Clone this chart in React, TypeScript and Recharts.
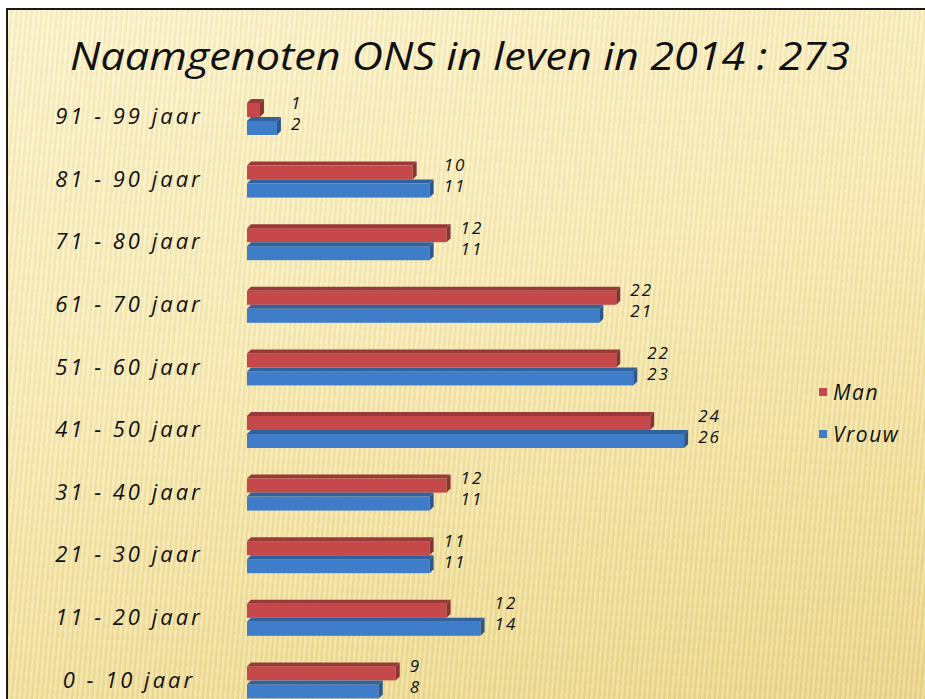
import React from 'react';
import { BarChart, Bar, XAxis, YAxis, LabelList } from 'recharts';

const categories = ['91 - 99 jaar', '81 - 90 jaar', '71 - 80 jaar', '61 - 70 jaar', '51 - 60 jaar', '41 - 50 jaar', '31 - 40 jaar', '21 - 30 jaar', '11 - 20 jaar', '0 - 10 jaar'];
const manValues = [1, 10, 12, 22, 22, 24, 12, 11, 12, 9];
const vrouwValues = [2, 11, 11, 21, 23, 26, 11, 11, 14, 8];
const seriesNames = ['Man', 'Vrouw'];
const title = 'Naamgenoten  ONS in leven in 2014 : 273';

const data = categories.map((c, i) => ({ cat: c, Man: manValues[i], Vrouw: vrouwValues[i] }));

const RED = '#C5494A';
const BLUE = '#3F7DC9';
const FONT = '"Open Sans", "DejaVu Sans", sans-serif';

function shade(hex: string, f: number) {
  const n = parseInt(hex.slice(1), 16);
  const r = Math.round(((n >> 16) & 255) * f);
  const g = Math.round(((n >> 8) & 255) * f);
  const b = Math.round((n & 255) * f);
  return `rgb(${r},${g},${b})`;
}

const Bar3D = (props: any) => {
  const { x, y, width, height, fill } = props;
  if (!width || width <= 0) return null;
  const d = 4;
  const w = Math.max(width - d, 1);
  return (
    <g>
      <rect x={x} y={y + d} width={w} height={height - d} fill={fill} />
      <polygon points={`${x},${y + d} ${x + d},${y} ${x + w + d},${y} ${x + w},${y + d}`} fill={shade(fill, 0.78)} />
      <polygon points={`${x + w},${y + d} ${x + w + d},${y} ${x + w + d},${y + height - d} ${x + w},${y + height}`} fill={shade(fill, 0.7)} />
    </g>
  );
};

const makeLabel = (dy: number) => (props: any) => {
  const { x, y, width, height, value, index } = props;
  const mx = Math.max(manValues[index], vrouwValues[index]);
  const endX = x + (width / value) * mx;
  return (
    <text x={endX + 10} y={y + height / 2 + dy} fill="#111" fontSize={17} letterSpacing={2} fontStyle="italic" fontFamily={FONT} dominantBaseline="middle">
      {value}
    </text>
  );
};

const CatTick = (props: any) => {
  const { x, y, payload } = props;
  return (
    <text x={x - 110} y={y + 1} textAnchor="middle" dominantBaseline="middle" fill="#111" fontSize={22} letterSpacing={3} fontStyle="italic" fontFamily={FONT}>
      {payload.value}
    </text>
  );
};

export default function App() {
  return (
    <div style={{ position: 'absolute', left: 0, top: 0, width: 925, height: 699, overflow: 'hidden', background: '#fff' }}>
      <div
        style={{
          position: 'absolute', left: 6, top: 8, width: 940, height: 700,
          borderLeft: '2px solid #1a1a1a', borderTop: '2px solid #1a1a1a',
          background:
            'repeating-linear-gradient(95deg, rgba(255,255,255,0.2) 0px, rgba(255,255,255,0.2) 2px, rgba(200,170,80,0.1) 3px, rgba(200,170,80,0.1) 5px), linear-gradient(165deg, #FCF3CB 0%, #F8EBB6 40%, #F0DE98 75%, #E8D385 100%)',
        }}
      />
      <svg style={{ position: 'absolute', left: 0, top: 0 }} width={925} height={100}>
        <text x={70} y={70} textLength={780} lengthAdjust="spacingAndGlyphs" fontSize={38} fontStyle="italic" fontFamily={FONT} fill="#111">
          {title}
        </text>
      </svg>
      <div style={{ position: 'absolute', left: 0, top: 0 }}>
        <BarChart
          width={925}
          height={699}
          data={data}
          layout="vertical"
          margin={{ top: 86, right: 169, bottom: -13, left: 0 }}
          barGap={0}
          barSize={18}
        >
          <XAxis type="number" domain={[0, 30]} hide />
          <YAxis type="category" dataKey="cat" width={247} axisLine={false} tickLine={false} tick={<CatTick />} interval={0} />
          <Bar dataKey="Man" fill={RED} shape={<Bar3D />} isAnimationActive={false}>
            <LabelList dataKey="Man" content={makeLabel(-4)} />
          </Bar>
          <Bar dataKey="Vrouw" fill={BLUE} shape={<Bar3D />} isAnimationActive={false}>
            <LabelList dataKey="Vrouw" content={makeLabel(-1)} />
          </Bar>
        </BarChart>
      </div>
      <div style={{ position: 'absolute', left: 819, top: 371, fontFamily: FONT, fontStyle: 'italic', fontSize: 21, letterSpacing: 1.5, color: '#111' }}>
        {seriesNames.map((n, i) => (
          <div key={n} style={{ display: 'flex', alignItems: 'center', height: 42 }}>
            <span style={{ display: 'inline-block', width: 8, height: 8, background: i === 0 ? RED : BLUE, marginRight: 6 }} />
            <span>{n}</span>
          </div>
        ))}
      </div>
    </div>
  );
}
